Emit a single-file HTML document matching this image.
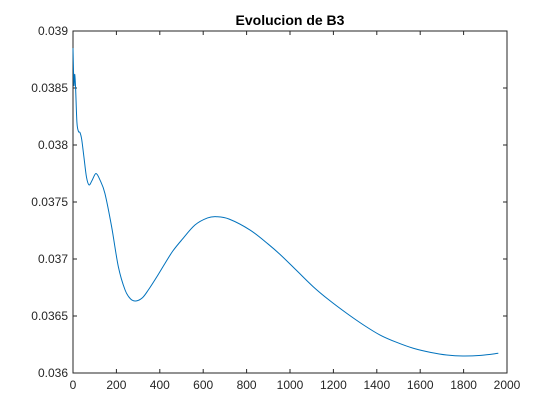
<!DOCTYPE html>
<html><head><meta charset="utf-8"><style>
body{margin:0;background:#fff;}
svg{display:block;font-family:"Liberation Sans",Arial,sans-serif;}
</style></head><body>
<svg id="c" width="560" height="420">
<rect x="0" y="0" width="560" height="420" fill="#fff"/>
<rect x="73" y="31" width="434" height="342" fill="#fff" stroke="#262626" stroke-width="1"/>
<text x="290" y="25" text-anchor="middle" font-size="14" font-weight="bold" fill="#000">Evolucion de B3</text>
<g id="ax"></g>
<path id="line" fill="none" stroke="#0072bd" stroke-width="1"/>
</svg>
<script>
const xTicks=[0,200,400,600,800,1000,1200,1400,1600,1800,2000];
const yTicks=[0.036,0.0365,0.037,0.0375,0.038,0.0385,0.039];
const yTickLabels=["0.036","0.0365","0.037","0.0375","0.038","0.0385","0.039"];
const xs=[0,3,5,8,12,18,25,32,40,50,62,74,88,106,125,147,178,209,240,265,290,320,347,385,424,460,501,562,620,662,720,816,900,960,1030,1107,1180,1261,1340,1415,1490,1568,1650,1722,1797,1880,1960];
const ys=[0.03885,0.0386,0.03852,0.03862,0.0385,0.0382,0.03812,0.03811,0.03805,0.0379,0.03772,0.03765,0.03769,0.03775,0.03769,0.037576,0.037283,0.036932,0.036728,0.03665,0.036632,0.03666,0.036728,0.03684,0.036962,0.03707,0.037167,0.037298,0.03736,0.037371,0.03735,0.037254,0.03713,0.03703,0.03690,0.036757,0.03664,0.036524,0.03642,0.036333,0.03627,0.036217,0.03618,0.036158,0.036149,0.036155,0.036173];
const L=73,R=507,T=31,B=373;
const sx=v=>L+(v-0)/2000*(R-L);
const sy=v=>B-(v-0.036)/0.003*(B-T);
const ns="http://www.w3.org/2000/svg";
const ax=document.getElementById('ax');
function mk(tag,attrs){const e=document.createElementNS(ns,tag);for(const k in attrs)e.setAttribute(k,attrs[k]);return e;}
xTicks.forEach(t=>{
  const x=sx(t);
  const a=mk('line',{x1:x,x2:x,y1:B,y2:B-4,stroke:'#262626'});
  
  
  ax.appendChild(a);
  const b=mk('line',{x1:x,x2:x,y1:T,y2:T+4,stroke:'#262626'});
  
  
  ax.appendChild(b);
  const tx=mk('text',{x:x,y:B+16,'text-anchor':'middle','font-size':'12',fill:'#262626'});
  tx.textContent=t;
  
  
  ax.appendChild(tx);
});
yTicks.forEach((t,i)=>{
  const y=sy(t);
  const a=mk('line',{x1:L,x2:L+4,y1:y,y2:y,stroke:'#262626'});
  
  
  ax.appendChild(a);
  const b=mk('line',{x1:R,x2:R-4,y1:y,y2:y,stroke:'#262626'});
  
  
  ax.appendChild(b);
  const tx=mk('text',{x:L-5,y:y+4,'text-anchor':'end','font-size':'12',fill:'#262626'});
  tx.textContent=yTickLabels[i];
  
  
  ax.appendChild(tx);
});
const P=xs.map((x,i)=>[sx(x),sy(ys[i])]);
let d='M'+P[0][0].toFixed(2)+','+P[0][1].toFixed(2);
for(let i=0;i<P.length-1;i++){
  const p0=P[Math.max(0,i-1)],p1=P[i],p2=P[i+1],p3=P[Math.min(P.length-1,i+2)];
  const c1=[p1[0]+(p2[0]-p0[0])/6,p1[1]+(p2[1]-p0[1])/6];
  const c2=[p2[0]-(p3[0]-p1[0])/6,p2[1]-(p3[1]-p1[1])/6];
  d+=' C'+c1.map(v=>v.toFixed(2)).join(',')+' '+c2.map(v=>v.toFixed(2)).join(',')+' '+p2.map(v=>v.toFixed(2)).join(',');
}
document.getElementById('line').setAttribute('d',d);
</script>
</body></html>
